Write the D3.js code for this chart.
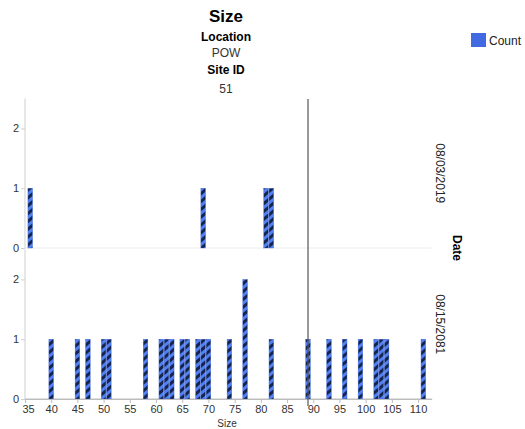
<!DOCTYPE html>
<html><head><meta charset="utf-8">
<script src="https://cdn.jsdelivr.net/npm/d3@7"></script>
<style>body{margin:0;background:#fff;} text{font-family:"Liberation Sans",Arial,sans-serif;}</style>
</head><body>
<svg id="c" width="525" height="429"></svg>
<script>
const titleLines = ["Size","Location","POW","Site ID","51"];
const panels = ["08/03/2019","08/15/2081"];
const sizes2019 = [36, 69, 81, 82];
const counts2019 = [1, 1, 1, 1];
const sizes2081 = [40,45,47,50,51,58,61,62,63,65,66,68,69,70,74,77,82,89,93,96,99,102,103,104,111];
const counts2081 = [1,1,1,1,1,1,1,1,1,1,1,1,1,1,1,2,1,1,1,1,1,1,1,1,1];
const xTicks = [35,40,45,50,55,60,65,70,75,80,85,90,95,100,105,110];
const yTicks = [0,1,2];
const refLine = 89;
const seriesName = "Count";

const svg = d3.select("#c");
const defs = svg.append("defs");
const pat = defs.append("pattern").attr("id","stripe").attr("patternUnits","userSpaceOnUse")
  .attr("width",6).attr("height",6).attr("patternTransform","rotate(-40)");
pat.append("rect").attr("width",6).attr("height",6).attr("fill","#4f7ff0");
pat.append("rect").attr("width",6).attr("height",3).attr("fill","#14244f");

const x = d3.scaleLinear().domain([35,112.6]).range([25,431.7]);
const bw = 4.6;
const panelDefs = [
  {label: panels[0], sizes: sizes2019, counts: counts2019, top: 98.5, bottom: 248},
  {label: panels[1], sizes: sizes2081, counts: counts2081, top: 249.5, bottom: 399}
];

panelDefs.forEach((p,i) => {
  const y = d3.scaleLinear().domain([0,2.5]).range([p.bottom,p.top]);
  // baseline
  svg.append("line").attr("x1",25).attr("x2",431.7).attr("y1",p.bottom).attr("y2",p.bottom)
    .attr("stroke", i===1 ? "#bdbdbd" : "#ececec").attr("stroke-width",1);
  const ya = svg.append("g").attr("transform","translate(25,0)")
    .call(d3.axisLeft(y).tickValues(yTicks).tickSize(4).tickFormat(d3.format("d")));
  ya.select(".domain").attr("stroke","#cfcfcf").attr("d",`M0,${p.top}V${p.bottom}`);
  ya.selectAll(".tick line").attr("stroke","#cfcfcf");
  ya.selectAll(".tick text").attr("font-size",11).attr("fill","#333").attr("x",-6)
    .attr("font-family","Liberation Sans, Arial, sans-serif");
  const data = p.sizes.map((s,k)=>({s, c:p.counts[k]}));
  svg.append("g").selectAll("rect").data(data).join("rect")
    .attr("x",d=>x(d.s)-bw/2).attr("width",bw)
    .attr("y",d=>y(d.c)).attr("height",d=>y(0)-y(d.c))
    .attr("fill","url(#stripe)").attr("stroke","#3d63d6").attr("stroke-width",0.4);
  svg.append("text").attr("transform",`translate(436,${(p.top+p.bottom)/2}) rotate(90)`)
    .attr("text-anchor","middle").attr("font-size",12).attr("fill","#222").text(p.label);
});

// x axis
const xa = svg.append("g").attr("transform","translate(0,399)")
  .call(d3.axisBottom(x).tickValues(xTicks).tickSize(4).tickSizeOuter(0));
xa.select(".domain").attr("stroke","#bdbdbd");
xa.selectAll(".tick line").attr("stroke","#bdbdbd");
xa.selectAll(".tick text").attr("font-size",11).attr("fill","#333").attr("y",6)
  .attr("font-family","Liberation Sans, Arial, sans-serif")
  .attr("dx",d=> d===35 ? 3 : 0);
svg.append("text").attr("x",227).attr("y",427).attr("text-anchor","middle")
  .attr("font-size",10).attr("fill","#333").text("Size");

// reference line
svg.append("line").attr("x1",x(refLine)).attr("x2",x(refLine)).attr("y1",99).attr("y2",406)
  .attr("stroke","#555").attr("stroke-width",1.2);

// titles
const tY = [22,41,57,74,93];
titleLines.forEach((t,k)=>{
  svg.append("text").attr("x",226).attr("y",tY[k]).attr("text-anchor","middle")
    .attr("font-size", k===0 ? 17 : 12)
    .attr("font-weight", (k===0||k===1||k===3) ? "bold" : "normal")
    .attr("fill", (k===2||k===4) ? "#333" : "#000").text(t);
});

// facet title
svg.append("text").attr("transform","translate(453,248) rotate(90)").attr("text-anchor","middle")
  .attr("font-size",12).attr("font-weight","bold").text("Date");

// legend
svg.append("rect").attr("x",471).attr("y",33).attr("width",15).attr("height",14).attr("fill","#4169e1");
svg.append("text").attr("x",489).attr("y",44.5).attr("font-size",12).attr("fill","#222").text(seriesName);
</script>
</body></html>
